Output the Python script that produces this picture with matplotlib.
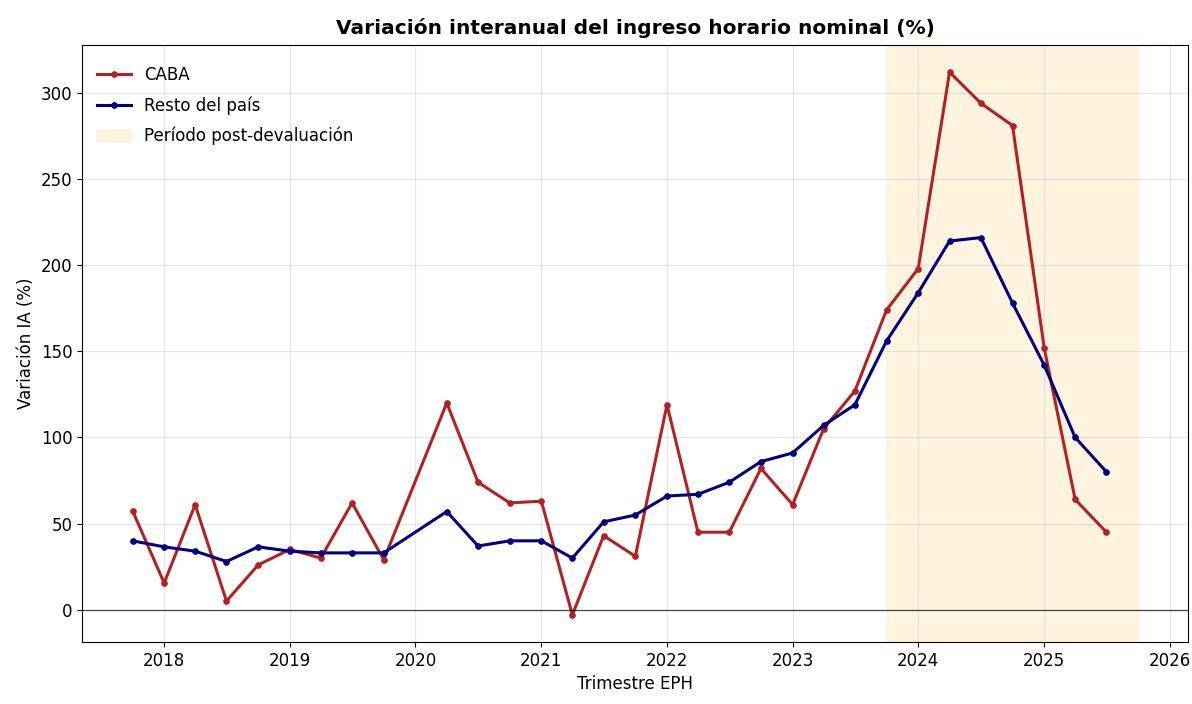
import pandas as pd
import matplotlib
matplotlib.use("Agg")
import matplotlib.pyplot as plt
import matplotlib.dates as mdates

# Trimestres EPH (2020-T1 no relevado)
trimestres = ["2017-10", "2018-01", "2018-04", "2018-07", "2018-10",
              "2019-01", "2019-04", "2019-07", "2019-10",
              "2020-04", "2020-07", "2020-10",
              "2021-01", "2021-04", "2021-07", "2021-10",
              "2022-01", "2022-04", "2022-07", "2022-10",
              "2023-01", "2023-04", "2023-07", "2023-10",
              "2024-01", "2024-04", "2024-07", "2024-10",
              "2025-01", "2025-04", "2025-07"]

caba = [57.5, 15.5, 61, 5, 26, 35, 30, 62, 29,
        120, 74, 62, 63, -3, 43, 31,
        119, 45, 45, 82, 61, 105, 127, 174,
        198, 312, 294, 281, 152, 64, 45]

resto = [40, 36.5, 34, 28, 36.5, 34, 33, 33, 33,
         57, 37, 40, 40, 30, 51, 55,
         66, 67, 74, 86, 91, 107, 119, 156,
         184, 214, 216, 178, 142, 100, 80]

inicio_post = "2023-10"
fin_post = "2025-10"

fechas = pd.to_datetime(trimestres)

fig, ax = plt.subplots(figsize=(11.92, 7.04), dpi=100)
fig.subplots_adjust(left=0.069, right=0.997, top=0.936, bottom=0.088)

ax.plot(fechas, caba, color="#b22222", marker="o", markersize=3.8, linewidth=2.2, label="CABA")
ax.plot(fechas, resto, color="#000080", marker="o", markersize=3.8, linewidth=2.2, label="Resto del país")
ax.axvspan(pd.Timestamp(inicio_post), pd.Timestamp(fin_post), color="orange", alpha=0.12,
           label="Período post-devaluación")
ax.axhline(0, color="black", linewidth=0.9, alpha=0.7)

ax.set_title("Variación interanual del ingreso horario nominal (%)", fontsize=14.5,
             fontweight="bold", pad=8)
ax.set_xlabel("Trimestre EPH", fontsize=12)
ax.set_ylabel("Variación IA (%)", fontsize=12)
ax.tick_params(labelsize=12)
ax.xaxis.set_major_locator(mdates.YearLocator())
ax.xaxis.set_major_formatter(mdates.DateFormatter("%Y"))
ax.grid(True, alpha=0.3)
ax.legend(loc="upper left", bbox_to_anchor=(0, 0.99), frameon=False, fontsize=12,
          labelspacing=0.73)

plt.savefig("out.png", dpi=100)
